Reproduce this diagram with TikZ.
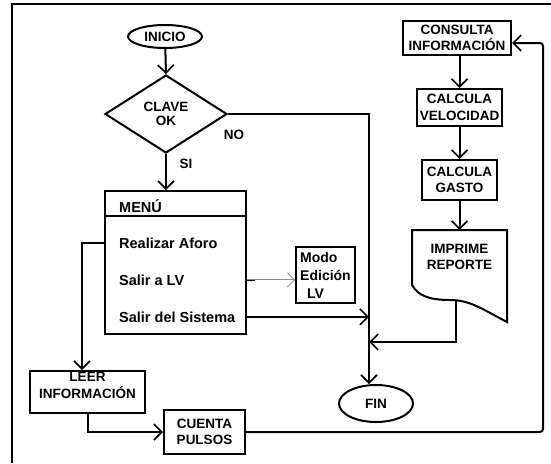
\documentclass[tikz,border=0pt]{standalone}
\usepackage{fontspec}
\setmainfont{Liberation Sans}
\usetikzlibrary{arrows.meta,shapes.geometric,calc}
\begin{document}
\begin{tikzpicture}[x=1pt,y=-1pt,
  every node/.style={font=\fontsize{13.5}{16.5}\selectfont\bfseries},
  ln/.style={line width=2pt},
  arr/.style={line width=2pt,-{Straight Barb[length=8pt,width=16pt,line width=1.6pt]}},
  greyarr/.style={line width=0.8pt,draw=black!45,-{Straight Barb[length=7pt,width=14pt,line width=0.8pt]}},
  box/.style={draw,line width=2pt,inner sep=0pt,align=center},
  item/.style={anchor=base west,inner sep=0pt,font=\fontsize{14.5}{17}\selectfont\bfseries}
]
\useasboundingbox (0,0) rectangle (551,463);
% frame
\draw[line width=2.4pt] (551,4) -- (12,4) -- (12,463);

% nodes
\node[box,ellipse,minimum width=74pt,minimum height=23pt] (inicio) at (165,36.5) {INICIO};
\node[box,diamond,minimum width=122pt,minimum height=78pt] (clave) at (166,114) {\raisebox{-3pt}{\shortstack{CLAVE\\[2pt]OK}}};
\node[inner sep=0pt] (no) at (234,135) {NO};
\node[inner sep=0pt] (si) at (186,164) {SI};

\node[box,minimum width=141pt,minimum height=143pt] (menu) at (175.5,262.5) {};
\draw[ln] (105,216) -- (246,216);
\node[item] (menut) at (119,212) {MENÚ};
\node[item] (it1) at (119,248) {Realizar Aforo};
\node[item] (it2) at (119,285) {Salir a LV};
\node[item] (it3) at (119,322) {Salir del Sistema};

\node[box,minimum width=59pt,minimum height=56pt,align=left,font=\fontsize{14}{18}\selectfont\bfseries] (modo) at (325.5,275) {Modo\\Edición\\\hspace*{7pt}LV};

\node[box,minimum width=115pt,minimum height=42pt] (leer) at (87.5,392) {LEER\\INFORMACIÓN\\[-3pt]};
\node[box,minimum width=81pt,minimum height=44pt] (cuenta) at (204.5,432) {CUENTA\\PULSOS};

\node[box,minimum width=108pt,minimum height=34pt] (consulta) at (457,38) {CONSULTA\\INFORMACIÓN};
\node[box,minimum width=85pt,minimum height=37pt] (vel) at (459.5,107.5) {CALCULA\\VELOCIDAD};
\node[box,minimum width=75pt,minimum height=40pt] (gasto) at (459.5,180) {CALCULA\\GASTO};

% document shape
\draw[ln] (412,230) -- (507,230) -- (507,322)
  .. controls (482,309) and (470,300) .. (450,300)
  .. controls (430,300) and (418,296) .. (412,285) -- cycle;
\node[inner sep=0pt,align=center] (imprime) at (459.5,257) {IMPRIME\\REPORTE};
\coordinate (imptop) at (459.5,230);
\coordinate (impbot) at (456,301);

\node[box,ellipse,minimum width=74pt,minimum height=37pt] (fin) at (376,403.5) {FIN};
\coordinate (rc) at (543,43);

% connectors
\draw[arr] (inicio) -- (clave.north);
\draw[arr] (clave.south) -- (menu.north -| clave.south);
\draw[arr] (clave.east) -| ([xshift=-7pt]fin.north);
\draw[arr] (menu.west |- it1.west) -| ([xshift=-5.5pt]leer.north);
\draw[line width=2pt] (menu.east |- it2.west) -- ++(8,0);
\draw[greyarr] (menu.east |- it2.west) -- (modo.west |- it2.west);
\draw[arr] (menu.east |- it3.west) -- ([xshift=-7pt]fin.north |- it3.west);
\draw[arr] (leer.south) |- (cuenta.west);
\draw[arr] (cuenta.east) [rounded corners=3pt] -| (rc) [sharp corners] -- (consulta.east |- rc);
\draw[arr] (consulta.south -| vel.north) -- (vel.north);
\draw[arr] (vel.south) -- (gasto.north);
\draw[arr] (gasto.south) -- (imptop);
\draw[arr] (impbot) |- ([xshift=-7pt]fin.north |- 0,342);
\end{tikzpicture}
\end{document}
